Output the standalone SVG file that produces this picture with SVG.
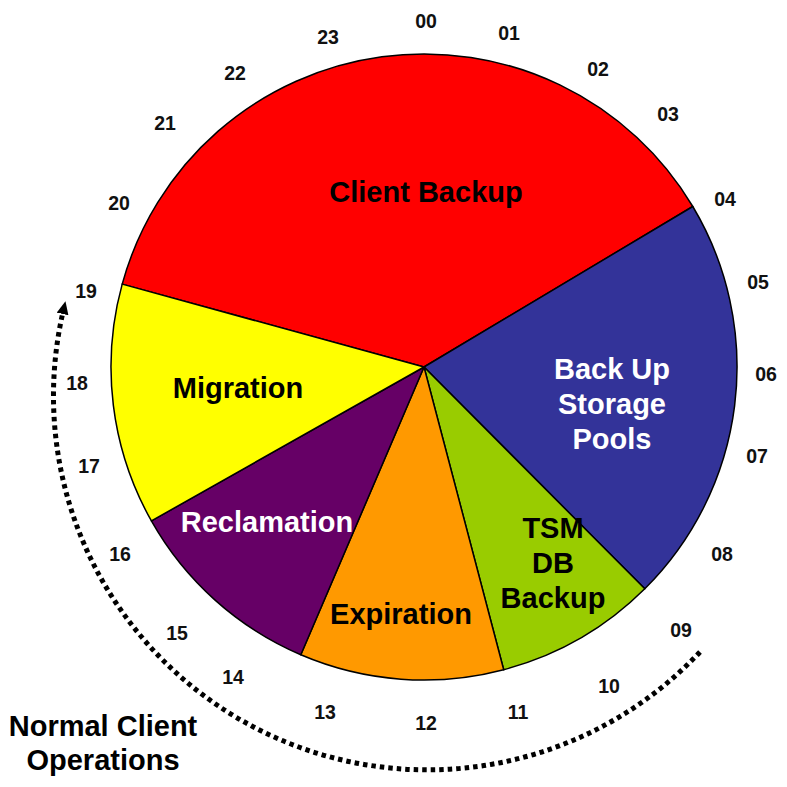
<svg xmlns="http://www.w3.org/2000/svg" width="787" height="787" viewBox="0 0 787 787">
<style>
.w{stroke:#000;stroke-width:1.5;stroke-linejoin:round}
.lbl{font-family:"Liberation Sans",Arial,sans-serif;font-weight:bold;font-size:29px;text-anchor:middle}
.hr{font-family:"Liberation Sans",Arial,sans-serif;font-weight:bold;font-size:19.5px;text-anchor:middle;fill:#111}
.dots{fill:none;stroke:#000;stroke-width:5;stroke-dasharray:4.5 4}
</style>
<defs>
<marker id="ah" markerUnits="userSpaceOnUse" markerWidth="14" markerHeight="14" refX="2" refY="6" orient="auto">
<path d="M0,0 L13,6 L0,12 Z" fill="#000"/>
</marker>
</defs>
<rect width="787" height="787" fill="#fff"/>
<g id="client-backup">
<path class="w" fill="#FF0000" d="M424,367 L122.2,284.1 A313,313 0 0 1 692.8,206.5 Z"/>
<text class="lbl" x="426" y="202" fill="#000">Client Backup</text>
</g>
<g id="backup-storage-pools">
<path class="w" fill="#333399" d="M424,367 L692.8,206.5 A313,313 0 0 1 644.8,588.8 Z"/>
<text class="lbl" x="612" y="379" fill="#fff">Back Up</text>
<text class="lbl" x="612" y="414" fill="#fff">Storage</text>
<text class="lbl" x="612" y="449" fill="#fff">Pools</text>
</g>
<g id="tsm-db-backup">
<path class="w" fill="#99CC00" d="M424,367 L644.8,588.8 A313,313 0 0 1 503.7,669.7 Z"/>
</g>
<g id="expiration">
<path class="w" fill="#FF9900" d="M424,367 L503.7,669.7 A313,313 0 0 1 300.8,654.8 Z"/>
<text class="lbl" x="401" y="624" fill="#000">Expiration</text>
</g>
<g id="reclamation">
<path class="w" fill="#660066" d="M424,367 L300.8,654.8 A313,313 0 0 1 151.4,520.9 Z"/>
</g>
<g id="migration">
<path class="w" fill="#FFFF00" d="M424,367 L151.4,520.9 A313,313 0 0 1 122.2,284.1 Z"/>
<text class="lbl" x="238" y="398" fill="#000">Migration</text>
</g>
<g id="overlay-labels">
<text class="lbl" x="267" y="532" fill="#fff">Reclamation</text>
<text class="lbl" x="553" y="538" fill="#000">TSM</text>
<text class="lbl" x="553" y="573" fill="#000">DB</text>
<text class="lbl" x="553" y="608" fill="#000">Backup</text>
</g>
<g id="hours">
<text class="hr" x="426" y="28">00</text>
<text class="hr" x="509" y="40">01</text>
<text class="hr" x="598" y="76">02</text>
<text class="hr" x="668" y="121">03</text>
<text class="hr" x="725" y="206">04</text>
<text class="hr" x="758" y="289">05</text>
<text class="hr" x="766" y="381">06</text>
<text class="hr" x="757" y="463">07</text>
<text class="hr" x="722" y="561">08</text>
<text class="hr" x="681" y="637">09</text>
<text class="hr" x="609" y="693">10</text>
<text class="hr" x="518" y="719">11</text>
<text class="hr" x="426" y="730">12</text>
<text class="hr" x="325" y="719">13</text>
<text class="hr" x="233" y="684">14</text>
<text class="hr" x="177" y="640">15</text>
<text class="hr" x="120" y="561">16</text>
<text class="hr" x="89" y="473">17</text>
<text class="hr" x="77" y="390">18</text>
<text class="hr" x="86" y="298">19</text>
<text class="hr" x="119" y="210">20</text>
<text class="hr" x="165" y="130">21</text>
<text class="hr" x="235" y="80">22</text>
<text class="hr" x="328" y="44">23</text>
</g>
<g id="connectors">
<path class="dots" d="M700,652 A374,374 0 0 1 63,312" marker-end="url(#ah)"/>
</g>
<g id="normal-client-operations">
<text class="lbl" x="103" y="736" fill="#000">Normal Client</text>
<text class="lbl" x="103" y="770" fill="#000">Operations</text>
</g>
</svg>
